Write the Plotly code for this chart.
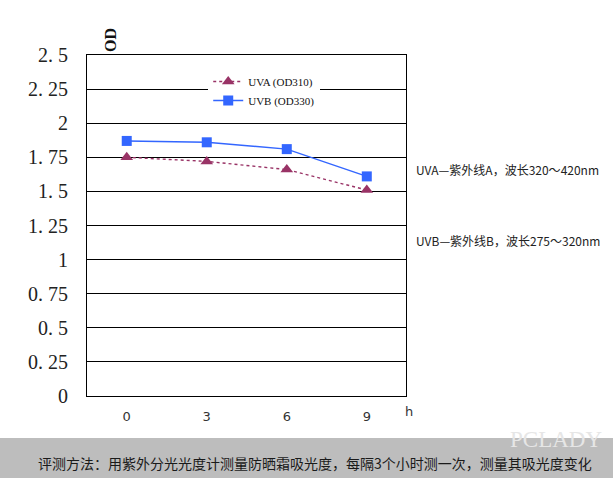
import plotly.graph_objects as go

hours = [0, 3, 6, 9]
uva_od310 = [1.75, 1.72, 1.66, 1.51]
uvb_od330 = [1.87, 1.86, 1.81, 1.61]
y_tick_vals = [0, 0.25, 0.5, 0.75, 1, 1.25, 1.5, 1.75, 2, 2.25, 2.5]
y_tick_text = ["0", "0. 25", "0. 5", "0. 75", "1", "1. 25", "1. 5", "1. 75", "2", "2. 25", "2. 5"]
x_tick_text = ["0", "3", "6", "9"]
series_names = ["UVA (OD310)", "UVB (OD330)"]
notes = ["UVA—紫外线A，波长320～420nm", "UVB—紫外线B，波长275～320nm"]
footer = "评测方法：用紫外分光光度计测量防晒霜吸光度，每隔3个小时测一次，测量其吸光度变化"

fig = go.Figure()
fig.add_trace(go.Scatter(
    x=hours, y=uva_od310, name=series_names[0], mode="lines+markers",
    line=dict(color="#993366", width=1.4, dash="dot"),
    marker=dict(symbol="triangle-up", size=11, color="#993366"),
))
fig.add_trace(go.Scatter(
    x=hours, y=uvb_od330, name=series_names[1], mode="lines+markers",
    line=dict(color="#3366ff", width=1.4),
    marker=dict(symbol="square", size=10, color="#3366ff"),
))

fig.update_layout(
    width=613, height=478,
    margin=dict(l=87, r=207, t=55, b=82),
    paper_bgcolor="white", plot_bgcolor="white",
    showlegend=True,
    legend=dict(x=0.38, y=0.965, xanchor="left", yanchor="top",
                bgcolor="white", borderwidth=0,
                font=dict(family="Liberation Serif", size=11, color="#111"),
                tracegroupgap=2, itemwidth=30),
    xaxis=dict(range=[-1.49, 10.47], tickvals=hours, ticktext=x_tick_text,
               showgrid=False, zeroline=False,
               showline=True, linecolor="black", linewidth=1, mirror=True,
               tickfont=dict(family="DejaVu Sans", size=13, color="#333"),
               ticks="", ticklabelstandoff=8),
    yaxis=dict(range=[0, 2.5], tickvals=y_tick_vals, ticktext=y_tick_text,
               showgrid=True, gridcolor="black", gridwidth=1, zeroline=False,
               showline=True, linecolor="black", linewidth=1, mirror=True,
               tickfont=dict(family="Liberation Serif", size=20, color="#222"),
               ticks="", ticklabelstandoff=14),
)

def px_x(p):
    return (p - 87) / 319

def px_y(p):
    return (396 - p) / 341

# OD axis title
fig.add_annotation(text="<b>OD</b>", xref="paper", yref="paper",
                   x=px_x(110), y=px_y(40), xanchor="center", yanchor="middle",
                   showarrow=False, textangle=-90,
                   font=dict(family="Liberation Serif", size=16, color="#111"))
# h unit
fig.add_annotation(text="h", xref="paper", yref="paper",
                   x=px_x(409), y=px_y(411), xanchor="center", yanchor="middle",
                   showarrow=False,
                   font=dict(family="DejaVu Sans", size=13, color="#333"))
# notes
fig.add_annotation(text=notes[0], xref="paper", yref="paper",
                   xanchor="left", yanchor="middle",
                   x=px_x(414), y=px_y(169), showarrow=False,
                   font=dict(family="Noto Sans CJK SC", size=12, color="#222"))
fig.add_annotation(text=notes[1], xref="paper", yref="paper",
                   xanchor="left", yanchor="middle",
                   x=px_x(414), y=px_y(240), showarrow=False,
                   font=dict(family="Noto Sans CJK SC", size=12, color="#222"))
# footer band
fig.add_shape(type="rect", xref="paper", yref="paper",
              x0=px_x(0), x1=px_x(613), y0=px_y(478), y1=px_y(438),
              fillcolor="#bdbdbd", line=dict(width=0), layer="below")
fig.add_annotation(text="PCLADY", xref="paper", yref="paper",
                   x=px_x(556), y=px_y(440), xanchor="center", yanchor="middle",
                   showarrow=False,
                   font=dict(family="Liberation Serif", size=23, color="#e6e6e6"))
fig.add_annotation(text=footer, xref="paper", yref="paper",
                   x=px_x(315), y=px_y(463), xanchor="center", yanchor="middle",
                   showarrow=False,
                   font=dict(family="Noto Sans CJK SC", size=14, color="#1a1a1a"))

fig.write_html("out.html")
